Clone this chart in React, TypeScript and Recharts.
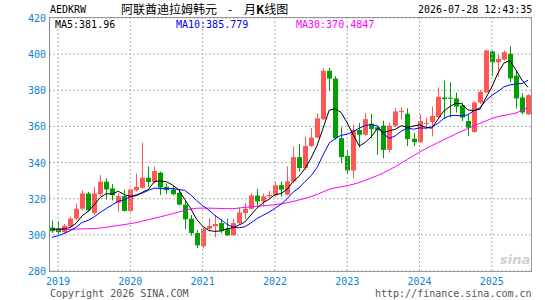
import { ComposedChart, Bar, Line, XAxis, YAxis, CartesianGrid, ReferenceLine } from "recharts";

// monthly candles, Dec 2018 .. Jul 2025
const START_YEAR = 2018;
const START_MONTH = 12;
const yearTicks = ["2019", "2020", "2021", "2022", "2023", "2024", "2025"];
const yTicks = [280, 300, 320, 340, 360, 380, 400, 420];

const opens = [
  304, 303.5, 301.5, 304.7, 309, 314.5, 322.9, 312, 322.5, 329.4, 325.7, 317.7, 321.4,
  313.2, 324.7, 326, 331.6, 329.2, 334.4, 326.6, 325.1, 323.3, 316.7, 309, 301,
  293.7, 303.3, 304.7, 306.5, 303.4, 299.7, 306.5, 312, 314.4, 321.8, 318.5, 321.3,
  321.8, 327.5, 322.2, 329.6, 343, 337, 349.2, 353.8, 364, 390.8, 386.5, 353.5,
  343.7, 335.6, 358, 355.4, 361.5, 359.6, 360.4, 347, 360.4, 367.9, 367, 353.2,
  351.3, 361.5, 362.5, 365.2, 376, 375.9, 375.5, 371.7, 363, 356.9, 373.2, 378.8,
  401.5, 395.5, 397, 400.2, 388.1, 376, 366.7,
];
const closes = [
  302, 301.5, 305, 309, 314.5, 322.9, 313.6, 322.9, 329.4, 325.1, 322, 321.4, 313.2,
  325.1, 326.6, 331.6, 329.2, 335.3, 326.2, 324.7, 322.5, 316.7, 308.6, 301, 294.2,
  303.4, 305, 306, 302.3, 299.7, 306.5, 312.4, 314.4, 321.8, 318.5, 321.3, 322.2,
  327.5, 325, 329.6, 343, 337, 349.2, 353.8, 364.5, 390.8, 386.5, 353.5, 343,
  335.6, 358.1, 355.4, 364, 358.5, 358.1, 347, 360.4, 368.3, 368.5, 353, 351.3,
  363, 362, 365.8, 376.4, 375.1, 375.4, 371, 364.9, 359.3, 373.2, 379.2, 402,
  395.5, 397.4, 401.1, 386.6, 375.5, 367.7, 377.3,
];
const highs = [
  308, 307.5, 306, 310, 317.3, 324.7, 323.8, 326.6, 333.1, 331.3, 328, 322.9, 325,
  325.7, 334, 351, 337.8, 338, 335, 328.5, 327, 324.8, 319, 311, 302.5,
  304, 309.3, 311.1, 308.8, 309, 309, 315.2, 317.6, 323, 325.5, 323, 324.3,
  329.3, 329.6, 337.9, 348.9, 350.3, 354.4, 359, 367.3, 392.4, 392.4, 387.8, 359.5,
  347, 361, 361.9, 367.4, 367, 360.5, 363.2, 362.2, 370.2, 370.7, 370, 356.5,
  366.7, 364.9, 371, 381.6, 385.3, 384.4, 378.8, 373.2, 366.7, 374, 380.3, 402.6,
  402, 399.5, 402, 404.5, 390.9, 378.4, 377.8,
];
const lows = [
  301, 300.5, 300.5, 304, 308, 313.5, 312.7, 311, 321.4, 319.5, 319, 312.6, 313,
  312.5, 324, 325.5, 326.6, 328.5, 322, 322.5, 321.9, 316.3, 303.3, 299.6, 292.7,
  292.4, 302, 298.6, 301, 299.5, 299.5, 306, 308.9, 314, 315.7, 315.7, 320.5,
  321, 321.3, 321.8, 328.6, 335, 336, 348.6, 353.4, 363.4, 379.6, 352.5, 339.7,
  333.7, 331.3, 348.5, 354.8, 353.5, 344.3, 342.4, 345.5, 359.6, 364, 349.1, 349,
  351, 358.4, 354.6, 364.8, 364, 364.9, 367.7, 363, 354.6, 356.5, 372.3, 378.4,
  388.1, 387.7, 396.5, 384.4, 369.9, 366.7, 366.4,
];
// closes of Mar..Nov 2018 (only needed to start MA5 / MA10)
const earlierCloses = [292, 293, 294, 295, 296, 302, 304, 305, 303];
const ma30 = [
  303, 303, 303, 303, 303.2, 303.3, 303.4, 303.5, 303.8, 304.2, 304.7, 305.2, 305.7,
  306.2, 306.8, 307.6, 308.4, 309.2, 310, 310.8, 311.7, 312.6, 313.5, 314.3, 314.7,
  314.8, 314.8, 314.7, 314.6, 314.5, 314.5, 314.8, 315.2, 315.5, 315.8, 316.1, 316.4,
  316.7, 317.2, 317.8, 318.5, 319.3, 320.2, 321.2, 322.4, 323.8, 325.2, 326, 326.6,
  327.2, 328, 329, 330.2, 331.5, 332.8, 334.3, 336, 337.8, 339.8, 341.8, 343.8,
  345.8, 347.6, 349.3, 351, 352.6, 354.2, 355.8, 357.3, 358.8, 360.3, 361.7, 363,
  364.4, 365.4, 366.1, 366.7, 367.4, 368.8, 370.5,
];

const RED = "#ff5656";
const GREEN = "#00a000";
const AXIS_BLUE = "#0a84d6";
const MONO = "'DejaVu Sans Mono', monospace";
const CJK = "'Noto Sans CJK SC', sans-serif";

const allCloses = [...earlierCloses, ...closes];
const avg = (end: number, n: number) => {
  let s = 0;
  for (let k = end - n + 1; k <= end; k++) s += allCloses[k];
  return +(s / n).toFixed(3);
};

const data = opens.map((open, i) => {
  const mi = START_MONTH - 1 + i;
  const year = START_YEAR + Math.floor(mi / 12);
  const month = (mi % 12) + 1;
  const j = i + earlierCloses.length;
  return {
    m: `${year}-${String(month).padStart(2, "0")}`,
    open,
    close: closes[i],
    high: highs[i],
    low: lows[i],
    ma5: avg(j, 5),
    ma10: avg(j, 10),
    ma30: ma30[i],
  };
});

const Candle = (props: any) => {
  const { x, y, width, height, payload } = props;
  const { open, close, high, low } = payload;
  const top0 = Math.min(y, y + height);
  const h = Math.abs(height);
  const ppu = high > low ? h / (high - low) : 0;
  const color = close >= open ? RED : GREEN;
  const cx = Math.round(x + width / 2) + 0.5;
  const bTop = top0 + (high - Math.max(open, close)) * ppu;
  const bBot = top0 + (high - Math.min(open, close)) * ppu;
  return (
    <g>
      <line x1={cx} x2={cx} y1={top0} y2={top0 + h} stroke={color} strokeWidth={1} />
      <rect x={cx - 2.5} y={bTop} width={5} height={Math.max(1, bBot - bTop)} fill={color} />
    </g>
  );
};

const XTick = (props: any) => {
  const { x, payload } = props;
  const v: string = payload.value;
  if (!v.endsWith("-01")) return <g />;
  return (
    <text x={x} y={285} textAnchor="middle" fontFamily={MONO} fontSize={10} fill={AXIS_BLUE}>
      {v.slice(0, 4)}
    </text>
  );
};

const YTick = (props: any) => {
  const { y, payload } = props;
  return (
    <text x={46} y={y + 4} textAnchor="end" fontFamily={MONO} fontSize={10} fill={AXIS_BLUE}>
      {payload.value}
    </text>
  );
};

const txt = (left: number, top: number, color: string, extra: any = {}) => ({
  position: "absolute" as const,
  left,
  top,
  color,
  fontFamily: MONO,
  fontSize: 10,
  whiteSpace: "nowrap" as const,
  lineHeight: "12px",
  ...extra,
});

const cjk = { fontFamily: CJK, fontSize: 12, lineHeight: "16px" };

export default function App() {
  return (
    <div style={{ position: "absolute", left: 0, top: 0, width: 545, height: 300, background: "#fff" }}>
      <ComposedChart
        width={545}
        height={300}
        data={data}
        margin={{ top: 18, right: 14, bottom: 9, left: 0 }}
        barCategoryGap={1}
      >
        <CartesianGrid vertical={false} stroke="#b0b0b0" strokeDasharray="2 2" />
        {yearTicks.map((yr) => (
          <ReferenceLine key={yr} x={`${yr}-01`} stroke="#b0b0b0" strokeDasharray="2 2" />
        ))}
        <XAxis dataKey="m" interval={0} height={20} axisLine={false} tickLine={false} tick={<XTick />} />
        <YAxis
          type="number"
          domain={[280, 420]}
          ticks={yTicks}
          width={49}
          axisLine={false}
          tickLine={false}
          tick={<YTick />}
        />
        <Bar dataKey={(d: any) => [d.low, d.high]} shape={<Candle />} isAnimationActive={false} />
        <Line type="linear" dataKey="ma30" stroke="#ff00ff" strokeWidth={1} dot={false} isAnimationActive={false} />
        <Line type="linear" dataKey="ma10" stroke="#0000ff" strokeWidth={1} dot={false} isAnimationActive={false} />
        <Line type="linear" dataKey="ma5" stroke="#000000" strokeWidth={1} dot={false} isAnimationActive={false} />
      </ComposedChart>

      {/* plot frame */}
      <div
        style={{
          position: "absolute",
          left: 49,
          top: 17,
          width: 481,
          height: 253,
          border: "1px solid #999",
          borderLeftColor: "#888",
          pointerEvents: "none",
        }}
      />

      <div style={txt(50, 4, "#000")}>AEDKRW</div>
      <div style={txt(121, 1, "#000", cjk)}>阿联酋迪拉姆韩元</div>
      <div style={txt(228, 1, "#000", cjk)}>-</div>
      <div style={txt(244, 1, "#000", cjk)}>
        月<b>K</b>线图
      </div>
      <div style={txt(418, 4, "#000")}>2026-07-28 12:43:35</div>

      <div style={txt(55, 19, "#000")}>MA5:381.96</div>
      <div style={txt(176, 19, "#0000ff")}>MA10:385.779</div>
      <div style={txt(296, 19, "#ff00ff")}>MA30:370.4847</div>

      <div
        style={{
          position: "absolute",
          left: 500,
          top: 253,
          color: "#d0d0d0",
          fontFamily: "'DejaVu Sans', sans-serif",
          fontStyle: "italic",
          fontWeight: "bold",
          fontSize: 13,
          lineHeight: "14px",
        }}
      >
        sina
      </div>

      <div style={txt(50, 288, "#555")}>Copyright 2026 SINA.COM</div>
      <div style={txt(375, 288, "#555")}>http://finance.sina.com.cn</div>
    </div>
  );
}
